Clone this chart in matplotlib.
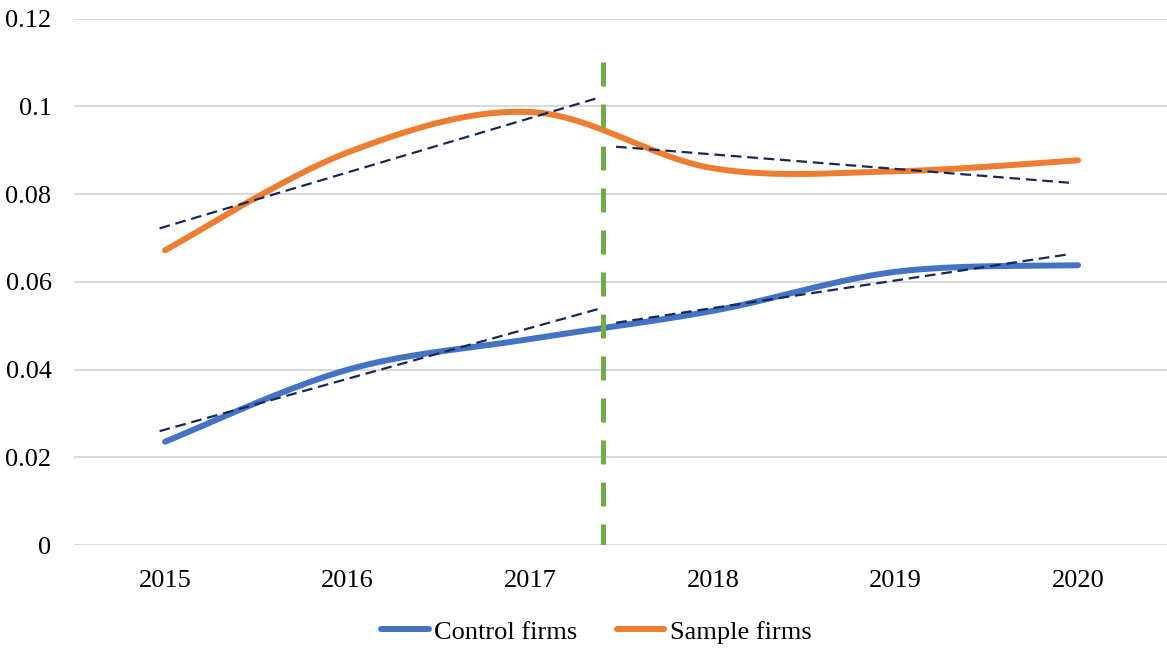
import numpy as np
import matplotlib

matplotlib.use("Agg")
import matplotlib.pyplot as plt
from matplotlib.lines import Line2D

years = [2015, 2016, 2017, 2018, 2019, 2020]
control = [0.0236, 0.0400, 0.0470, 0.0534, 0.0623, 0.0638]
sample = [0.0672, 0.0895, 0.0987, 0.0859, 0.0852, 0.0877]

# policy break and the two-segment trend lines around it
break_year = 2017.40
break_top = 0.110
pre_x = [2014.97, 2017.37]
post_x = [2017.47, 2019.95]
control_pre = [0.0260, 0.0538]
control_post = [0.0507, 0.0663]
sample_pre = [0.0722, 0.1019]
sample_post = [0.0908, 0.0826]


def smooth(x, y, n=40):
    """Catmull-Rom style bezier through the points (spreadsheet 'smoothed line')."""
    p = np.column_stack([x, y]).astype(float)
    ext = np.vstack([p[0], p, p[-1]])
    out = []
    t = np.linspace(0, 1, n)[:, None]
    for i in range(len(p) - 1):
        p0, p3 = ext[i + 1], ext[i + 2]
        c1 = p0 + (ext[i + 2] - ext[i]) / 6.0
        c2 = p3 - (ext[i + 3] - ext[i + 1]) / 6.0
        seg = ((1 - t) ** 3) * p0 + 3 * ((1 - t) ** 2) * t * c1 + 3 * (1 - t) * t ** 2 * c2 + t ** 3 * p3
        out.append(seg if i == 0 else seg[1:])
    s = np.vstack(out)
    return s[:, 0], s[:, 1]


plt.rcParams["font.family"] = ["Liberation Serif", "DejaVu Serif"]
plt.rcParams["font.size"] = 19

fig = plt.figure(figsize=(11.67, 6.5), dpi=100)
ax = fig.add_axes([0.0632, 0.1611, 0.9388, 0.8104])

blue, orange, green, navy = "#4472C4", "#ED7D31", "#70AD47", "#14295A"

for vals, col in ((control, blue), (sample, orange)):
    sx, sy = smooth(years, vals)
    ax.plot(sx, sy, color=col, lw=4.3, solid_capstyle="round", zorder=3)

for xs, ys in ((pre_x, control_pre), (post_x, control_post),
               (pre_x, sample_pre), (post_x, sample_post)):
    ax.plot(xs, ys, color=navy, lw=1.6, dashes=(4.8, 2.6), zorder=4)

# drawn top-down so the dash pattern starts at the top end
ax.plot([break_year, break_year], [break_top, 0], color=green, lw=3.6,
        dashes=(4.8, 3.6), dash_capstyle="butt", zorder=5)

ax.set_xlim(2014.5, 2020.5)
ax.set_ylim(0, 0.12)
ax.set_xticks(years)
ax.set_yticks(np.arange(0, 0.121, 0.02))
ax.set_yticklabels(["0", "0.02", "0.04", "0.06", "0.08", "0.1", "0.12"])
ax.tick_params(axis="x", length=0, pad=18)
ax.tick_params(axis="y", length=0, pad=16)
ax.yaxis.grid(True, color="#D9D9D9", lw=1.5)
ax.set_axisbelow(True)
for sp in ax.spines.values():
    sp.set_visible(False)

handles = [Line2D([], [], color=blue, lw=4.3, solid_capstyle="round"),
           Line2D([], [], color=orange, lw=4.3, solid_capstyle="round")]
fig.legend(handles, ["Control firms", "Sample firms"], loc="center",
           bbox_to_anchor=(0.511, 0.028), ncol=2, frameon=False,
           handlelength=1.8, handletextpad=0.2, columnspacing=1.5)

fig.savefig("out.png", dpi=100)
